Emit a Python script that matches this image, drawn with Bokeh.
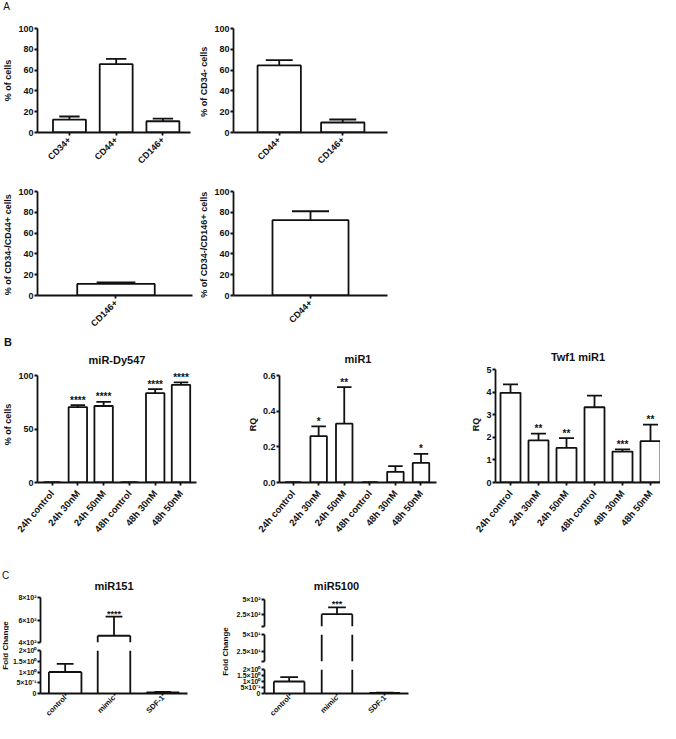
import math
from bokeh.plotting import figure
from bokeh.models import Range1d, FixedTicker, PrintfTickFormatter, ColumnDataSource, Div
from bokeh.layouts import row, column
from bokeh.core.properties import value
from bokeh.embed import file_html
from bokeh.resources import INLINE

FONT = "Liberation Sans"
INK = "#111111"

# ---------------- data ----------------
a1_cats = ["CD34+", "CD44+", "CD146+"]
a1_vals = [12.3, 65.7, 10.8]
a1_errs = [3.1, 5.0, 2.5]

a2_cats = ["CD44+", "CD146+"]
a2_vals = [64.5, 9.6]
a2_errs = [5.0, 2.9]

a3_cats = ["CD146+"]
a3_vals = [11.1]
a3_errs = [1.6]

a4_cats = ["CD44+"]
a4_vals = [72.4]
a4_errs = [8.6]

pct_ticks = [0, 20, 40, 60, 80, 100]

b_cats = ["24h control", "24h 30nM", "24h 50nM", "48h control", "48h 30nM", "48h 50nM"]
dy_vals = [0, 70.5, 71.5, 0, 83.5, 91.3]
dy_errs = [0, 1.8, 3.8, 0, 3.7, 2.2]
dy_stars = ["", "****", "****", "", "****", "****"]
dy_ticks = [0, 50, 100]

mir1_vals = [0, 0.26, 0.33, 0, 0.06, 0.11]
mir1_errs = [0, 0.055, 0.205, 0, 0.032, 0.05]
mir1_stars = ["", "*", "**", "", "", "*"]
mir1_ticks = [0, 0.2, 0.4, 0.6]

twf_vals = [3.97, 1.86, 1.53, 3.33, 1.37, 1.83]
twf_errs = [0.37, 0.30, 0.43, 0.51, 0.10, 0.73]
twf_stars = ["", "**", "**", "", "***", "**"]
twf_ticks = [0, 1, 2, 3, 4, 5]

c_cats = ["control", "mimic", "SDF-1"]
m151_vals = [1.0, 460, 0.05]
m151_errs = [0.38, 170, 0.03]
m151_stars = ["", "****", ""]
m5100_vals = [1.0, 255, 0.05]
m5100_errs = [0.37, 115, 0.03]
m5100_stars = ["", "***", ""]

c_low_ticks = [0, 0.5, 1, 1.5, 2]
c_low_labels = ["0", "5×10⁻¹", "1×10⁰", "1.5×10⁰", "2×10⁰"]
m151_high_ticks = [400, 600, 800]
m151_high_labels = ["4×10²", "6×10²", "8×10²"]
m5100_mid_ticks = [10, 25, 50]
m5100_mid_labels = ["", "2.5×10¹", "5×10¹"]
m5100_high_ticks = [50, 250, 500]
m5100_high_labels = ["", "2.5×10²", "5×10²"]

LW = 1.8


def blank(w, h, texts):
    p = figure(width=w, height=h, x_range=Range1d(0, w), y_range=Range1d(0, h),
               min_border=0, min_border_left=0, min_border_right=0,
               min_border_top=0, min_border_bottom=0,
               toolbar_location=None, output_backend="svg",
               x_axis_location=None, y_axis_location=None)
    p.outline_line_color = None
    p.grid.visible = False
    for (tx, ty, t, size, style, ang) in texts:
        p.text(x=[tx], y=[h - ty], text=[t], angle=ang,
               text_font=value(FONT), text_font_size=size, text_font_style=style,
               text_color=INK, text_align="center", text_baseline="middle")
    return p


def broken_bars(p, xs, vals, errs, lo, hi, hb, hc):
    # bars drawn as outline segments, limited to the segment's value window
    x0, y0, x1, y1 = [], [], [], []
    for x, v, e in zip(xs, vals, errs):
        et = v + e
        if v > lo:
            t = min(v, hi)
            for dx in (-hb, hb):
                x0.append(x + dx); y0.append(lo); x1.append(x + dx); y1.append(t)
        if lo <= v <= hi:
            x0.append(x - hb); y0.append(v); x1.append(x + hb); y1.append(v)
        if et > lo and v < hi:
            x0.append(x); y0.append(max(v, lo)); x1.append(x); y1.append(min(et, hi))
        if lo <= et <= hi:
            x0.append(x - hc); y0.append(et); x1.append(x + hc); y1.append(et)
    src = ColumnDataSource(dict(x0=x0, y0=y0, x1=x1, y1=y1))
    p.segment(x0="x0", y0="y0", x1="x1", y1="y1", source=src,
              line_color=INK, line_width=LW)


def chart(fx0, fx1, fy0, fy1, frx0, frx1, ylo_px, yhi_px, ylo, yhi,
          c0, step, bar_px, cap_px, vals, errs, yticks, ylabels=None,
          cats=None, ylabel=None, title=None, stars=None, pad=0,
          title_standoff=10, yfont="9px", xfont="9px", yfmt=None,
          star_size="10px", star_off=-5, broken=False, xtick_out=3, xstand=3,
          xangle=math.pi / 4):
    per_px = (yhi - ylo) / (ylo_px - yhi_px)
    frame_top = yhi_px - pad
    T = frame_top - fy0
    B = fy1 - ylo_px
    L = frx0 - fx0
    R = fx1 - frx1
    n = len(vals)
    ytop = yhi + pad * per_px
    xr = Range1d((frx0 - c0) / step, (frx1 - c0) / step)
    yr = Range1d(ylo, ytop)
    p = figure(width=fx1 - fx0, height=fy1 - fy0, x_range=xr, y_range=yr,
               min_border_left=L, min_border_right=R,
               min_border_top=T, min_border_bottom=B,
               toolbar_location=None, output_backend="svg",
               x_axis_location="below" if cats else None)
    p.outline_line_color = None
    p.grid.visible = False
    p.background_fill_color = "white"

    xs = list(range(n))
    tops = [v + e for v, e in zip(vals, errs)]
    hw = cap_px / 2.0 / step
    if broken:
        broken_bars(p, xs, vals, errs, ylo, ytop, bar_px / 2.0 / step, hw)
    else:
        src = ColumnDataSource(dict(x=xs, top=vals, etop=tops,
                                    cl=[x - hw for x in xs], cr=[x + hw for x in xs]))
        p.vbar(x="x", top="top", bottom=0, width=bar_px / step, source=src,
               fill_color="white", line_color=INK, line_width=LW)
        p.segment(x0="x", y0="top", x1="x", y1="etop", source=src,
                  line_color=INK, line_width=LW)
        p.segment(x0="cl", y0="etop", x1="cr", y1="etop", source=src,
                  line_color=INK, line_width=LW)
    if stars:
        ssrc = ColumnDataSource(dict(x=xs, y=tops, t=stars))
        p.text(x="x", y="y", text="t", source=ssrc, text_font=value(FONT),
               text_font_size=star_size, text_font_style="bold", text_color=INK,
               text_align="center", text_baseline="alphabetic", y_offset=star_off)

    ya = p.yaxis[0]
    ya.ticker = FixedTicker(ticks=yticks)
    ya.bounds = (ylo, yhi)
    if ylabels is not None:
        ya.major_label_overrides = {t: l for t, l in zip(yticks, ylabels)}
    if yfmt is not None:
        ya.formatter = PrintfTickFormatter(format=yfmt)
    for ax in p.axis:
        ax.axis_line_width = LW
        ax.axis_line_color = INK
        ax.major_tick_line_width = LW
        ax.major_tick_line_color = INK
        ax.major_tick_out = 3
        ax.major_tick_in = 0
        ax.minor_tick_out = 0
        ax.minor_tick_in = 0
        ax.major_label_text_font = FONT
        ax.major_label_text_font_style = "bold"
        ax.major_label_text_color = INK
        ax.major_label_standoff = 1
    ya.major_label_text_font_size = yfont
    if ylabel:
        ya.axis_label = ylabel
        ya.axis_label_text_font = FONT
        ya.axis_label_text_font_size = "9px"
        ya.axis_label_text_font_style = "bold"
        ya.axis_label_text_color = INK
        ya.axis_label_standoff = 2
    if cats:
        xa = p.xaxis[0]
        xa.ticker = FixedTicker(ticks=xs)
        xa.major_label_overrides = {i: c for i, c in enumerate(cats)}
        xa.major_label_orientation = xangle
        xa.major_label_text_font_size = xfont
        xa.major_tick_out = xtick_out
        xa.major_label_standoff = xstand
    if title:
        p.title.text = title
        p.title.align = "center"
        p.title.text_font = FONT
        p.title.text_font_size = "11px"
        p.title.text_font_style = "bold"
        p.title.text_color = INK
        p.title.standoff = title_standoff
    return p


# ---------------- panel A ----------------
stripA = blank(400, 12, [(6, 6, "A", "10px", "normal", 0)])

A1 = chart(0, 196, 12, 172, 32, 190, 134, 28, 0, 100, 65, 48.25, 34, 21,
           a1_vals, a1_errs, pct_ticks, cats=a1_cats, ylabel="% of cells")
A2 = chart(196, 400, 12, 172, 227, 387, 134, 28, 0, 100, 274.5, 66, 45, 28,
           a2_vals, a2_errs, pct_ticks, cats=a2_cats, ylabel="% of  CD34- cells")
A3 = chart(0, 196, 172, 335, 36, 192, 296, 191, 0, 100, 115, 100, 78, 39,
           a3_vals, a3_errs, pct_ticks, cats=a3_cats, ylabel="% of  CD34-/CD44+ cells")
A4 = chart(196, 400, 172, 335, 229, 387, 296, 191, 0, 100, 308, 100, 78, 38,
           a4_vals, a4_errs, pct_ticks, cats=a4_cats, ylabel="% of  CD34-/CD146+ cells")

# ---------------- panel B ----------------
BANG = 0.87
letterB = Div(text="B", width=244, height=14,
              styles={"font-family": FONT, "font-size": "11px", "font-weight": "bold",
                      "color": INK, "line-height": "14px", "padding-left": "4px",
                      "margin": "0px", "box-sizing": "border-box"})
DY = chart(0, 244, 349, 545, 32, 196, 482, 375, 0, 100, 47, 26.6, 19, 15,
           dy_vals, dy_errs, dy_ticks, cats=b_cats, ylabel="% of cells",
           title="miR-Dy547", stars=dy_stars, pad=9, title_standoff=2,
           xfont="9.5px", xstand=6, xangle=BANG)
M1 = chart(244, 468, 335, 545, 274, 436, 482, 375, 0, 0.6, 288, 26.4, 17, 15,
           mir1_vals, mir1_errs, mir1_ticks, cats=b_cats, ylabel="RQ",
           title="miR1", stars=mir1_stars, pad=9, title_standoff=3, yfmt="%.1f",
           xfont="9.5px", xstand=6, xangle=BANG)
TW = chart(468, 660, 335, 545, 495, 660, 482, 369, 0, 5, 510, 28, 20, 15,
           twf_vals, twf_errs, twf_ticks, cats=b_cats, ylabel="RQ",
           title="Twf1 miR1", stars=twf_stars, pad=3, title_standoff=8,
           xfont="9.5px", xstand=6, xangle=BANG)

# ---------------- panel C ----------------
G1 = blank(9, 178, [(5, 30, "C", "10px", "normal", 0),
                    (4.5, 100, "Fold Change", "8px", "bold", math.pi / 2)])
T151 = chart(9, 215, 545, 646, 38, 187, 642, 597, 400, 800, 63, 49.5, 33, 17,
             m151_vals, m151_errs, m151_high_ticks, ylabels=m151_high_labels,
             title="miR151", stars=m151_stars, title_standoff=11, yfont="7px",
             star_size="9px", star_off=-3, broken=True)
B151 = chart(9, 215, 646, 723, 38, 187, 695, 650, 0, 2, 63, 49.5, 33, 17,
             m151_vals, m151_errs, c_low_ticks, ylabels=c_low_labels,
             cats=c_cats, yfont="7px", xfont="7.5px", broken=True,
             xtick_out=2, xstand=1)
G2 = blank(18, 178, [(10, 106, "Fold Change", "8px", "bold", math.pi / 2)])
T5100 = chart(233, 660, 545, 630, 262, 408, 626, 599, 50, 500, 287, 48.5, 31, 18,
              m5100_vals, m5100_errs, m5100_high_ticks, ylabels=m5100_high_labels,
              title="miR5100", stars=m5100_stars, pad=4, title_standoff=7, yfont="7px",
              star_size="9px", star_off=-3, broken=True)
M5100 = chart(233, 660, 630, 665, 262, 408, 661, 634, 10, 50, 287, 48.5, 31, 18,
              m5100_vals, m5100_errs, m5100_mid_ticks, ylabels=m5100_mid_labels,
              yfont="7px", broken=True)
B5100 = chart(233, 660, 665, 723, 262, 408, 697, 669, 0, 2, 287, 48.5, 31, 18,
              m5100_vals, m5100_errs, c_low_ticks, ylabels=c_low_labels,
              cats=c_cats, yfont="7px", xfont="7.5px", broken=True,
              xtick_out=2, xstand=1)

layout = column(
    stripA,
    row(A1, A2),
    row(A3, A4),
    row(column(letterB, DY), M1, TW),
    row(G1, column(T151, B151), G2, column(T5100, M5100, B5100)),
)

open("out.html", "w").write(file_html(layout, INLINE))
